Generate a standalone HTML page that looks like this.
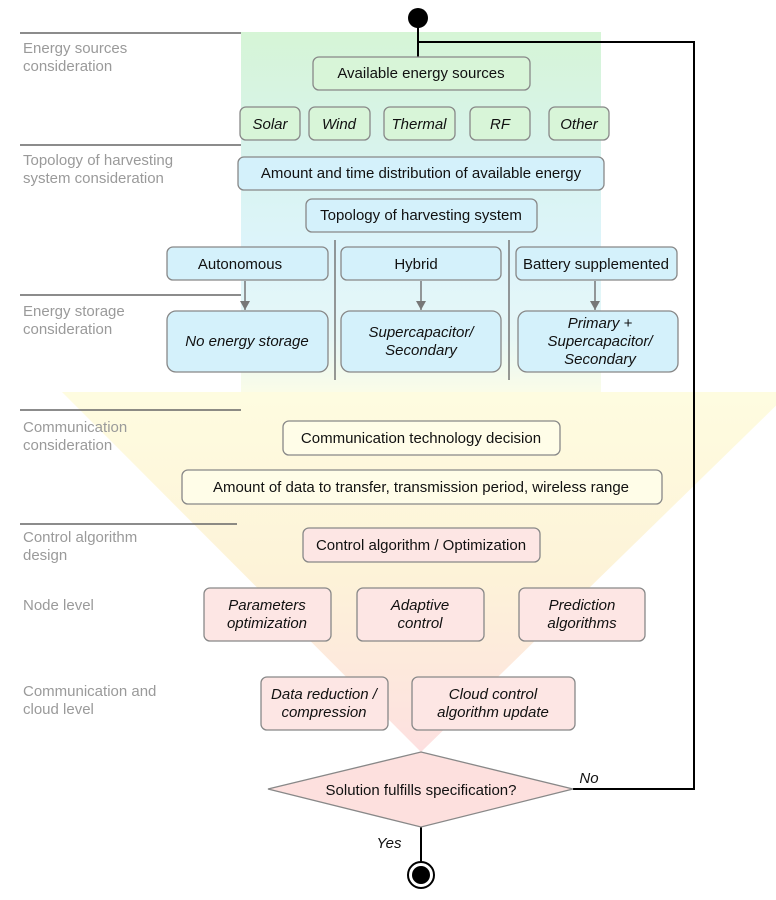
<!DOCTYPE html>
<html><head><meta charset="utf-8"><style>
html,body{margin:0;padding:0;background:#fff}
svg{display:block}
text{font-family:"Liberation Sans",sans-serif}
.l{fill:#9a9a9a;font-size:15px}
.t{font-size:15px;fill:#111;text-anchor:middle}
.i{font-style:italic}
</style></head><body>
<svg width="776" height="900" viewBox="0 0 776 900" xmlns="http://www.w3.org/2000/svg">
<defs>
<linearGradient id="rg" x1="0" y1="0" x2="0" y2="1">
<stop offset="0" stop-color="#d6f5d6"/><stop offset="0.35" stop-color="#d8f3ee"/><stop offset="0.6" stop-color="#ddf4fb"/><stop offset="0.85" stop-color="#e6f7f6"/><stop offset="1" stop-color="#fafce8"/></linearGradient>
<linearGradient id="tg" x1="0" y1="0" x2="0" y2="1">
<stop offset="0" stop-color="#fefce0"/><stop offset="0.5" stop-color="#fdf3d8"/><stop offset="1" stop-color="#fde0e0"/></linearGradient>
<marker id="ar" markerWidth="10" markerHeight="10" refX="9" refY="5" orient="auto" markerUnits="userSpaceOnUse"><path d="M0,0 L9,5 L0,10 z" fill="#777"/></marker>
</defs>
<polygon points="62,392 790,392 421,752" fill="url(#tg)"/>
<rect x="241" y="32" width="360" height="360" fill="url(#rg)"/>
<g stroke="#666" stroke-width="1.5">
<line x1="20" y1="33" x2="241" y2="33"/><line x1="20" y1="145" x2="241" y2="145"/><line x1="20" y1="295" x2="241" y2="295"/><line x1="20" y1="410" x2="241" y2="410"/><line x1="20" y1="524" x2="237" y2="524"/>
</g>
<g class="l">
<text x="23" y="53">Energy sources</text><text x="23" y="71">consideration</text>
<text x="23" y="165">Topology of harvesting</text><text x="23" y="183">system consideration</text>
<text x="23" y="316">Energy storage</text><text x="23" y="334">consideration</text>
<text x="23" y="432">Communication</text><text x="23" y="450">consideration</text>
<text x="23" y="542">Control algorithm</text><text x="23" y="560">design</text>
<text x="23" y="610">Node level</text>
<text x="23" y="696">Communication and</text><text x="23" y="714">cloud level</text>
</g>
<g fill="none" stroke="#000" stroke-width="2">
<line x1="418" y1="18" x2="418" y2="57"/>
<polyline points="418,42 694,42 694,789 573,789"/>
<line x1="421" y1="827" x2="421" y2="862"/>
</g>
<circle cx="418" cy="18" r="10" fill="#000"/>
<g stroke="#888" stroke-width="1.3">
<rect x="313" y="57" width="217" height="33" rx="6" fill="#d8f5d8"/>
<rect x="240" y="107" width="60" height="33" rx="6" fill="#d8f5d8"/>
<rect x="309" y="107" width="61" height="33" rx="6" fill="#d8f5d8"/>
<rect x="384" y="107" width="71" height="33" rx="6" fill="#d8f5d8"/>
<rect x="470" y="107" width="60" height="33" rx="6" fill="#d8f5d8"/>
<rect x="549" y="107" width="60" height="33" rx="6" fill="#d8f5d8"/>
<rect x="238" y="157" width="366" height="33" rx="6" fill="#d4f1fb"/>
<rect x="306" y="199" width="231" height="33" rx="6" fill="#d4f1fb"/>
<rect x="167" y="247" width="161" height="33" rx="6" fill="#d4f1fb"/>
<rect x="341" y="247" width="160" height="33" rx="6" fill="#d4f1fb"/>
<rect x="516" y="247" width="161" height="33" rx="6" fill="#d4f1fb"/>
<rect x="167" y="311" width="161" height="61" rx="9" fill="#d4f1fb"/>
<rect x="341" y="311" width="160" height="61" rx="9" fill="#d4f1fb"/>
<rect x="518" y="311" width="160" height="61" rx="9" fill="#d4f1fb"/>
<rect x="283" y="421" width="277" height="34" rx="6" fill="#fffde8"/>
<rect x="182" y="470" width="480" height="34" rx="6" fill="#fffde8"/>
<rect x="303" y="528" width="237" height="34" rx="6" fill="#fde6e4"/>
<rect x="204" y="588" width="127" height="53" rx="6" fill="#fde6e4"/>
<rect x="357" y="588" width="127" height="53" rx="6" fill="#fde6e4"/>
<rect x="519" y="588" width="126" height="53" rx="6" fill="#fde6e4"/>
<rect x="261" y="677" width="127" height="53" rx="6" fill="#fde6e4"/>
<rect x="412" y="677" width="163" height="53" rx="6" fill="#fde6e4"/>
<polygon points="421,752 573,789 421,827 268,789" fill="#fde0de"/>
</g>
<g stroke="#777" stroke-width="1.5">
<line x1="335" y1="240" x2="335" y2="380"/><line x1="509" y1="240" x2="509" y2="380"/>
<line x1="245" y1="281" x2="245" y2="310" marker-end="url(#ar)"/>
<line x1="421" y1="281" x2="421" y2="310" marker-end="url(#ar)"/>
<line x1="595" y1="281" x2="595" y2="310" marker-end="url(#ar)"/>
</g>
<text class="t" x="421" y="78">Available energy sources</text>
<text class="t i" x="270" y="129">Solar</text><text class="t i" x="339" y="129">Wind</text><text class="t i" x="419" y="129">Thermal</text><text class="t i" x="500" y="129">RF</text><text class="t i" x="579" y="129">Other</text>
<text class="t" x="421" y="178">Amount and time distribution of available energy</text>
<text class="t" x="421" y="220">Topology of harvesting system</text>
<text class="t" x="240" y="269">Autonomous</text><text class="t" x="416" y="269">Hybrid</text><text class="t" x="596" y="269">Battery supplemented</text>
<text class="t i" x="247" y="346">No energy storage</text>
<text class="t i" x="421" y="337">Supercapacitor/</text><text class="t i" x="421" y="355">Secondary</text>
<text class="t i" x="600" y="328">Primary +</text><text class="t i" x="600" y="346">Supercapacitor/</text><text class="t i" x="600" y="364">Secondary</text>
<text class="t" x="421" y="443">Communication technology decision</text>
<text class="t" x="421" y="492">Amount of data to transfer, transmission period, wireless range</text>
<text class="t" x="421" y="550">Control algorithm / Optimization</text>
<text class="t i" x="267" y="610">Parameters</text><text class="t i" x="267" y="628">optimization</text>
<text class="t i" x="420" y="610">Adaptive</text><text class="t i" x="420" y="628">control</text>
<text class="t i" x="582" y="610">Prediction</text><text class="t i" x="582" y="628">algorithms</text>
<text class="t i" x="324" y="699">Data reduction /</text><text class="t i" x="324" y="717">compression</text>
<text class="t i" x="493" y="699">Cloud control</text><text class="t i" x="493" y="717">algorithm update</text>
<text class="t" x="421" y="795">Solution fulfills specification?</text>
<text class="t i" x="589" y="783">No</text>
<text class="t i" x="389" y="848">Yes</text>
<circle cx="421" cy="875" r="13" fill="#fff" stroke="#000" stroke-width="2"/>
<circle cx="421" cy="875" r="9" fill="#000"/>
</svg>
</body></html>
